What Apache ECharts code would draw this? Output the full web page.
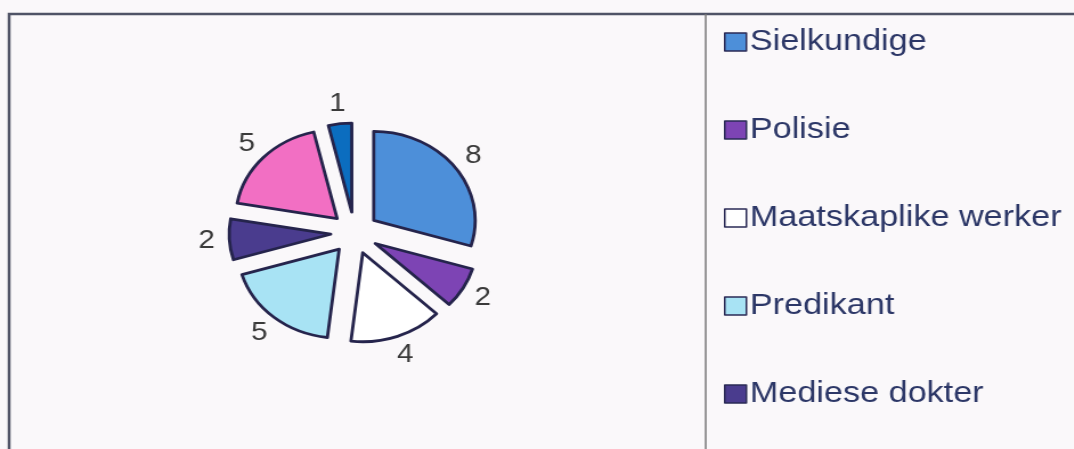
<!DOCTYPE html>
<html>
<head>
<meta charset="utf-8">
<script src="https://cdn.jsdelivr.net/npm/echarts@6/dist/echarts.min.js"></script>
<style>
    html,body{margin:0;padding:0;background:#faf8fa;overflow:hidden;}
    /*原图横向被拉伸,这里整体拉宽*/
    #chart{width:942px;height:449px;transform:scaleX(1.14);transform-origin:0 0;}
</style>
</head>
<body>
<div id="chart"></div>
<script>
//类别与数值(顺时针,从12点开始)
const names = ["Sielkundige","Polisie","Maatskaplike werker","Predikant","Mediese dokter","Ander","Onderwyser"];
const values = [8,2,4,5,2,5,1];
const colors = ["#4d8fd9","#7d44b4","#ffffff","#a8e3f4","#4a3c8e","#f26fc3","#0b6dbf"];

let chart = echarts.init(document.getElementById("chart"));
let option = {
    backgroundColor:"#faf8fa",
    animation:false,
    graphic:[
        {type:"rect",shape:{x:8,y:14,width:1000,height:500},style:{fill:"none",stroke:"#4f5366",lineWidth:2.5}},
        {type:"line",shape:{x1:619,y1:14,x2:619,y2:460},style:{stroke:"#777",lineWidth:1.5}}
    ],
    legend:{
        orient:"vertical",
        left:630,
        top:22,
        height:900,
        icon:"rect",
        itemWidth:19,
        itemHeight:18,
        itemGap:58,
        selectedMode:false,
        itemStyle:{borderColor:"#2a2a55",borderWidth:1.5},
        textStyle:{fontFamily:"Liberation Sans, Arial",fontSize:30,color:"#2c3767",padding:[0,0,0,-2]},
        data:names
    },
    series:[{
        type:"pie",
        center:[311,233],
        radius:89,
        startAngle:90,
        clockwise:true,
        selectedMode:"multiple",
        selectedOffset:21,
        avoidLabelOverlap:false,
        emphasis:{disabled:true},
        itemStyle:{borderColor:"#25244c",borderWidth:2.8},
        label:{show:false},
        labelLine:{show:false},
        data:names.map((n,i)=>({name:n,value:values[i],selected:true,itemStyle:{color:colors[i]}}))
    },{
        //数值标签:透明环,标签放在环中间
        type:"pie",
        center:[311,233],
        radius:[105,149],
        startAngle:90,
        clockwise:true,
        silent:true,
        legendHoverLink:false,
        avoidLabelOverlap:false,
        emphasis:{disabled:true},
        itemStyle:{color:"rgba(0,0,0,0)",borderWidth:0},
        label:{
            show:true,
            position:"inside",
            formatter:"{c}",
            fontFamily:"Liberation Sans, Arial",
            fontSize:26,
            color:"#3a3a3a"
        },
        labelLine:{show:false},
        data:names.map((n,i)=>({name:n,value:values[i]}))
    }]
};
chart.setOption(option);
</script>
</body>
</html>
